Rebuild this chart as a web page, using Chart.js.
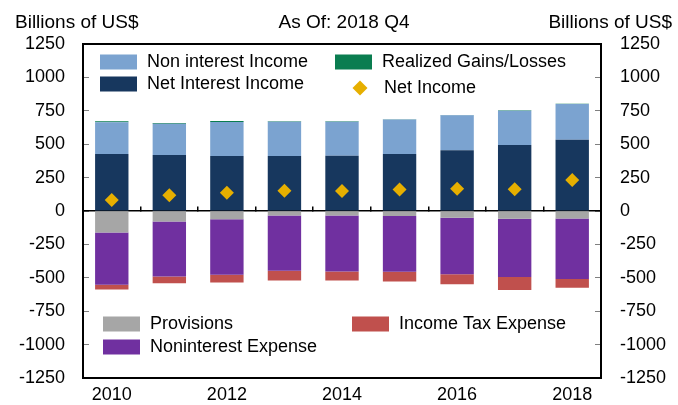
<!DOCTYPE html>
<html>
<head>
<meta charset="utf-8">
<script src="https://cdn.jsdelivr.net/npm/chart.js@4/dist/chart.umd.min.js"></script>
<style>
  body { margin: 0; background: #fff; }
  #wrap { width: 678px; height: 405px; }
</style>
</head>
<body>
<div id="wrap"><canvas id="incomeChart"></canvas></div>
<script>
// values, billions of US$
var years = ["2010", "2011", "2012", "2013", "2014", "2015", "2016", "2017", "2018"];
var netInterestIncome = [427, 419, 412, 412, 414, 427, 454, 494, 534];
var nonInterestIncome = [237, 235, 254, 256, 254, 257, 262, 257, 267];
var realizedGains = [8, 5, 8, 4, 3, 2, 2, 4, 2];
var provisions = [-160, -79, -61, -34, -34, -37, -50, -58, -56];
var noninterestExpense = [-392, -411, -417, -414, -419, -417, -424, -436, -453];
var incomeTaxExpense = [-36, -50, -57, -72, -67, -73, -75, -97, -65];
var netIncome = [82, 117, 137, 152, 150, 160, 167, 162, 232];

var yTicks = [-1250, -1000, -750, -500, -250, 0, 250, 500, 750, 1000, 1250];
var xTickLabels = ["2010", "2012", "2014", "2016", "2018"];

var FONT = '"Liberation Sans", Arial, sans-serif';
Chart.defaults.font.family = FONT;
Chart.defaults.font.size = 18;
Chart.defaults.color = '#000';

var colors = {
    nonInt: '#7BA3D0',
    netInt: '#17375E',
    gains: '#0A7D50',
    netIncome: '#E6AF00',
    prov: '#A6A6A6',
    expense: '#7030A0',
    tax: '#C0504D'
};

function setYTicks(scale) {
    scale.ticks = yTicks.map(function (v) { return {value: v}; });
}

// legend items drawn inside the plot, like the original
var legendItems = [
    {label: "Non interest Income", color: colors.nonInt, x: 100, y: 62},
    {label: "Net Interest Income", color: colors.netInt, x: 100, y: 84},
    {label: "Realized Gains/Losses", color: colors.gains, x: 335, y: 62},
    {label: "Net Income", color: colors.netIncome, x: 335, y: 88, diamond: true},
    {label: "Provisions", color: colors.prov, x: 103, y: 324},
    {label: "Noninterest Expense", color: colors.expense, x: 103, y: 347},
    {label: "Income Tax Expense", color: colors.tax, x: 352, y: 324}
];

var decorPlugin = {
    id: 'decor',
    afterDraw: function (chart) {
        var ctx = chart.ctx, a = chart.chartArea;
        ctx.save();
        // plot frame
        ctx.strokeStyle = '#000';
        ctx.lineWidth = 2;
        ctx.strokeRect(a.left, a.top, a.right - a.left, a.bottom - a.top);

        // header texts
        ctx.fillStyle = '#000';
        ctx.font = '19px ' + FONT;
        ctx.textBaseline = 'alphabetic';
        ctx.textAlign = 'left';
        ctx.fillText('Billions of US$', 15, 28);
        ctx.textAlign = 'right';
        ctx.fillText('Billions of US$', 672, 28);
        ctx.textAlign = 'center';
        ctx.fillText('As Of: 2018 Q4', 344, 28);

        // legend
        ctx.font = '18px ' + FONT;
        ctx.textAlign = 'left';
        ctx.textBaseline = 'middle';
        legendItems.forEach(function (it) {
            ctx.fillStyle = it.color;
            if (it.diamond) {
                var cx = it.x + 25, r = 7.5;
                ctx.beginPath();
                ctx.moveTo(cx, it.y - r);
                ctx.lineTo(cx + r, it.y);
                ctx.lineTo(cx, it.y + r);
                ctx.lineTo(cx - r, it.y);
                ctx.closePath();
                ctx.fill();
                ctx.fillStyle = '#000';
                ctx.fillText(it.label, it.x + 49, it.y);
            } else {
                ctx.fillRect(it.x, it.y - 7.5, 37, 15);
                ctx.fillStyle = '#000';
                ctx.fillText(it.label, it.x + 47, it.y);
            }
        });
        ctx.restore();
    }
};

function yAxis(pos, width, pad) {
    return {
        position: pos,
        stacked: true,
        min: -1250,
        max: 1250,
        afterBuildTicks: setYTicks,
        grid: {drawOnChartArea: false, drawTicks: true, tickLength: -6, color: '#808080'},
        border: {display: false},
        ticks: {
            padding: pad,
            color: '#000',
            callback: function (v) { return String(v); }
        },
        afterFit: function (s) {
            s.width = width;
            s.paddingTop = 0;
            s.paddingBottom = 0;
        }
    };
}

var chart = new Chart(document.getElementById('incomeChart'), {
    type: 'bar',
    data: {
        labels: years,
        datasets: [
            {
                type: 'line',
                label: 'Net Income',
                data: netIncome,
                showLine: false,
                pointStyle: 'rectRot',
                pointRadius: 7,
                pointBackgroundColor: colors.netIncome,
                pointBorderWidth: 0,
                order: 0
            },
            {label: 'Net Interest Income', data: netInterestIncome, backgroundColor: colors.netInt, order: 1},
            {label: 'Non interest Income', data: nonInterestIncome, backgroundColor: colors.nonInt, order: 1},
            {label: 'Realized Gains/Losses', data: realizedGains, backgroundColor: colors.gains, order: 1},
            {label: 'Provisions', data: provisions, backgroundColor: colors.prov, order: 1},
            {label: 'Noninterest Expense', data: noninterestExpense, backgroundColor: colors.expense, order: 1},
            {label: 'Income Tax Expense', data: incomeTaxExpense, backgroundColor: colors.tax, order: 1}
        ]
    },
    options: {
        responsive: true,
        maintainAspectRatio: false,
        animation: false,
        layout: {padding: {top: 44, left: 0, right: 0, bottom: 0}},
        datasets: {bar: {barPercentage: 0.58, categoryPercentage: 1.0}},
        plugins: {legend: {display: false}, tooltip: {enabled: false}},
        scales: {
            x: {
                stacked: true,
                grid: {display: false, drawTicks: false},
                border: {display: false},
                ticks: {
                    autoSkip: false,
                    maxRotation: 0,
                    padding: 6,
                    callback: function (v, i) {
                        return xTickLabels.indexOf(years[i]) >= 0 ? years[i] : '';
                    }
                },
                afterFit: function (s) { s.height = 27; }
            },
            // zero line with small tick marks between the years
            xZero: {
                type: 'category',
                axis: 'x',
                position: {y: 0},
                offset: true,
                grid: {offset: true, drawOnChartArea: false, drawTicks: true, tickLength: -5, color: '#000', lineWidth: 1.5},
                border: {display: true, color: '#000', width: 1.5},
                ticks: {display: false}
            },
            y: yAxis('left', 83, 24),
            y2: yAxis('right', 77, 25)
        }
    },
    plugins: [decorPlugin]
});
</script>
</body>
</html>
